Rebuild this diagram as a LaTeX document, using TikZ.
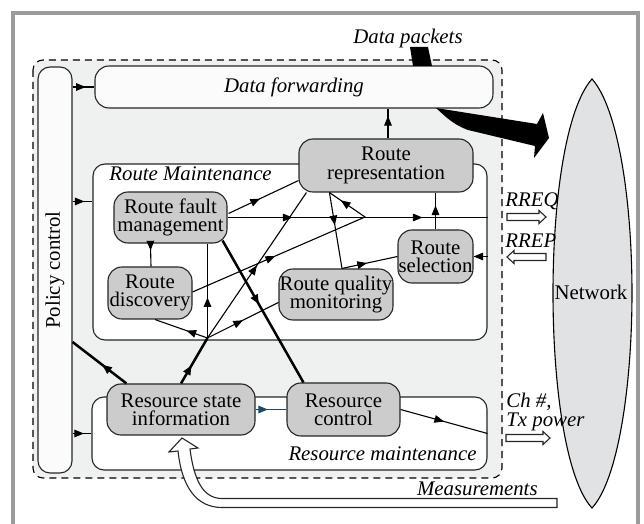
\documentclass[tikz,border=0pt]{standalone}
\usepackage{fontspec}
\usepackage{graphicx}
\setmainfont{Liberation Serif}
\usetikzlibrary{arrows.meta,positioning,calc,decorations.markings}

\definecolor{boxgray}{RGB}{204,204,204}
\definecolor{zonegray}{RGB}{239,240,240}
\definecolor{netgray}{RGB}{225,226,228}
\definecolor{framegray}{RGB}{155,155,155}
\definecolor{panelwhite}{RGB}{251,251,251}
\definecolor{linkblue}{RGB}{25,75,105}

\begin{document}
\begin{tikzpicture}[x=0.5pt,y=-0.5pt,
  font=\fontsize{10.4}{9.2}\selectfont,
  every node/.style={inner sep=0pt},
  block/.style={draw=black!85, line width=0.55pt, rounded corners=7pt, fill=boxgray, align=center},
  panel/.style={draw=black!85, line width=0.55pt, rounded corners=6pt, fill=white},
  tag/.style={font=\fontsize{10.4}{9.2}\selectfont\itshape},
  wire/.style={line width=0.55pt},
  thickwire/.style={line width=1.25pt},
  midarrow/.style={postaction={decorate,decoration={markings,
      mark=at position #1 with {\arrow{Triangle[length=4.8pt,width=3.8pt]}}}}},
  midarrow/.default=0.5,
  hollow/.style={draw=black!85, line width=0.55pt, fill=white}]
  \useasboundingbox (0,0) rectangle (644,524);
  % frame and grey zone
  \draw[framegray, line width=2pt] (13,524) -- (13,13) -- (637.5,13) -- (637.5,524);
  \draw[wire, dash pattern=on 3.5pt off 2.5pt, fill=zonegray, rounded corners=5pt] (33,60) rectangle (502,478);

  % network
  \draw[wire, fill=netgray] (592,79) .. controls (566,108) and (553,200) .. (553,293)
    .. controls (553,386) and (566,480) .. (592,508)
    .. controls (618,480) and (632,386) .. (632,293)
    .. controls (632,200) and (618,108) .. (592,79) -- cycle;
  \node (net) at (591,292) {Network};

  % panels
  \node[panel, fill=panelwhite, minimum width=17pt, minimum height=203pt] (pc) at (55,270) {\rotatebox{90}{Policy control}};
  \node[panel, fill=panelwhite, rounded corners=7pt, minimum width=199pt, minimum height=21pt, tag] (df) at (294,87) {Data forwarding};
  \node[panel, minimum width=197pt, minimum height=88pt] (rm) at (290,252) {};
  \node[tag, anchor=west] (rmlabel) at (109,174) {Route Maintenance};
  \node[panel, minimum width=197.5pt, minimum height=36.5pt] (resm) at (289.5,433.5) {};
  \node[tag, anchor=east] (resmlabel) at (477,454) {Resource maintenance};

  % blocks
  \node[block, minimum width=87pt, minimum height=26.5pt] (rr) at (386,165.5) {Route\\representation};
  \node[block, minimum width=56.5pt, minimum height=25.5pt] (rfm) at (170.5,217.5) {Route fault\\management};
  \node[block, minimum width=42pt, minimum height=26pt] (rd) at (150,293) {Route\\discovery};
  \node[block, minimum width=57pt, minimum height=25.5pt] (rqm) at (336,294.5) {Route quality\\monitoring};
  \node[block, minimum width=37.5pt, minimum height=26.5pt] (rs) at (435.5,256.5) {Route\\selection};
  \node[block, minimum width=74pt, minimum height=25.5pt] (rsi) at (181,409.5) {Resource state\\information};
  \node[block, minimum width=56.5pt, minimum height=26.5pt] (rc) at (343.5,409.5) {Resource\\control};

  \coordinate (J) at (207.5,338);
  \coordinate (V) at (365,217);
  \coordinate (rmin) at ($(rm.north west)+(0,38)$);

  % policy control links
  \draw[wire, midarrow=0.6] (pc.east |- df) -- (df.west);
  \draw[wire, midarrow=0.6] (pc.east |- rmin) -- (rmin);
  \draw[wire, midarrow=0.6] (pc.east |- resm.west) -- (resm.west);
  \draw[thickwire, midarrow=0.45] ($(rsi.north west)+(20,0)$) -- ($(pc.east)+(0,72)$);

  % route maintenance links
  \draw[thickwire, midarrow=0.4] (rsi.north) -- (J);
  \draw[wire, midarrow=0.43] (J) -- (J |- rfm.south);
  \draw[wire, midarrow=0.4] (J) -- ($(rd.south)+(5,0)$);
  \draw[wire, midarrow=0.5] (J) -- ($(rqm.west)+(0,8)$);
  \draw[wire, midarrow=0.5] (J) -- ($(rr.south west)+(8,0)$);
  \draw[wire, midarrow=0.39, midarrow=0.94] ($(rd.east)+(0,-1)$) -- (V) -- ($(rr.south west)+(31,0)$);
  \draw[wire, midarrow=0.43] ($(rr.south west)+(31,0)$) -- ($(rqm.north)+(6,0)$);
  \draw[wire, midarrow=0.45] ($(rqm.north)+(6,0)$) -- (rs.west);
  \draw[wire, midarrow=0.45] ($(rfm.east)+(1,-4)$) -- ($(rr.south west)+(0,-12)$);
  \draw[wire, midarrow=0.25, midarrow=0.75] (rfm.east) -- (rm.east |- rfm.east);
  \draw[wire, midarrow=0.65] (rs.north) -- (rs.north |- rr.south);
  \draw[wire, -{Triangle[length=4.8pt,width=3.8pt]}] (rm.east |- rs.east) -- (rs.east);
  \draw[wire, midarrow=0.3] ($(rfm.south west)+(37,0)$) -- ($(rd.north)+(1,0)$);
  \draw[thickwire, midarrow=0.45] ($(rfm.south east)+(-5,-3)$) -- ($(rc.north west)+(17,0)$);
  \draw[wire, midarrow=0.75] ($(rr.north)+(2,0)$) -- ($(df.south)+(94,0)$);

  % resource links
  \draw[wire, linkblue, midarrow=0.4] (rsi.east) -- (rc.west);
  \draw[wire, midarrow=0.5] (rc.east) -- (resm.east);

  % data packets
  \node[tag] (pkt) at (408,38) {Data packets};
  \fill (410,47) -- (428,47) -- (432,66) -- (413,66) -- cycle;
  \fill (436,108) -- (537,124) -- (543,113) -- (549,138) -- (534,158) -- (535,146)
    -- (468,130) .. controls (452,124) and (445,116) .. (436,108) -- cycle;

  % messages to the network
  \node[tag, anchor=west] (rreq) at (505,201) {RREQ};
  \draw[hollow] (507,213.5) -- (539,213.5) -- (539,210.5) -- (546,217) -- (539,223.5) -- (539,220.5) -- (507,220.5) -- cycle;
  \node[tag, anchor=west] (rrep) at (505,241) {RREP};
  \draw[hollow] (546,253.5) -- (514,253.5) -- (514,250.5) -- (507,257) -- (514,263.5) -- (514,260.5) -- (546,260.5) -- cycle;
  \node[tag, anchor=west, align=left] (chtx) at (506,412) {Ch \#,\\Tx power};
  \draw[hollow] (506,434.5) -- (543,434.5) -- (543,431.5) -- (550,438) -- (543,444.5) -- (543,441.5) -- (506,441.5) -- cycle;

  % measurements
  \node[tag, anchor=east] (meas) at (538,489) {Measurements};
  \draw[hollow] (557,498.5) -- (222,498.5) .. controls (203,498.5) and (194,480) .. (190,449)
    -- (198,448) -- (182,438) -- (169,452) -- (178,451)
    .. controls (182,488) and (197,507.5) .. (222,507.5) -- (557,507.5) -- cycle;
\end{tikzpicture}
\end{document}
